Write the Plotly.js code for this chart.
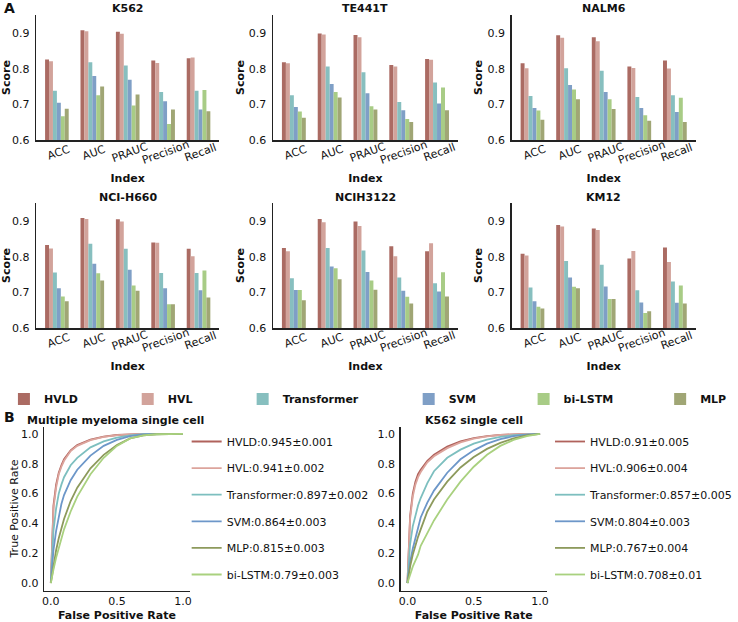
<!DOCTYPE html>
<html><head><meta charset="utf-8">
<script src="https://cdn.plot.ly/plotly-3.0.1.min.js"></script>
<style>html,body{margin:0;padding:0;background:#fff}#chart{width:738px;height:622px}</style>
</head><body><div id="chart"></div>
<script>
// ---------- DATA ----------
const categories = ['ACC', 'AUC', 'PRAUC', 'Precision', 'Recall'];
const methods = ['HVLD', 'HVL', 'Transformer', 'SVM', 'bi-LSTM', 'MLP'];
const cellLines = ['K562', 'TE441T', 'NALM6', 'NCI-H660', 'NCIH3122', 'KM12'];

// rows follow `methods`, columns follow `categories`
const scoresK562 = [
  [0.827, 0.909, 0.905, 0.824, 0.830],
  [0.822, 0.906, 0.899, 0.817, 0.832],
  [0.739, 0.819, 0.810, 0.735, 0.739],
  [0.705, 0.780, 0.770, 0.709, 0.686],
  [0.667, 0.726, 0.697, 0.645, 0.741],
  [0.688, 0.751, 0.728, 0.686, 0.681]
];
const scoresTE441T = [
  [0.819, 0.900, 0.896, 0.811, 0.828],
  [0.816, 0.897, 0.889, 0.807, 0.826],
  [0.726, 0.807, 0.791, 0.707, 0.762],
  [0.693, 0.758, 0.732, 0.684, 0.703],
  [0.680, 0.735, 0.695, 0.659, 0.748],
  [0.663, 0.720, 0.686, 0.651, 0.684]
];
const scoresNALM6 = [
  [0.816, 0.895, 0.889, 0.807, 0.824],
  [0.802, 0.888, 0.878, 0.803, 0.801],
  [0.724, 0.802, 0.795, 0.721, 0.726],
  [0.690, 0.755, 0.735, 0.690, 0.679],
  [0.683, 0.742, 0.715, 0.670, 0.719],
  [0.657, 0.715, 0.687, 0.654, 0.651]
];
const scoresNCIH660 = [
  [0.834, 0.910, 0.906, 0.841, 0.823],
  [0.824, 0.907, 0.900, 0.840, 0.802],
  [0.756, 0.837, 0.823, 0.755, 0.755],
  [0.712, 0.781, 0.764, 0.712, 0.706],
  [0.689, 0.754, 0.720, 0.667, 0.762],
  [0.675, 0.734, 0.705, 0.667, 0.686]
];
const scoresNCIH3122 = [
  [0.825, 0.907, 0.900, 0.830, 0.816],
  [0.816, 0.898, 0.887, 0.802, 0.839],
  [0.740, 0.825, 0.818, 0.742, 0.726],
  [0.707, 0.773, 0.758, 0.705, 0.703],
  [0.707, 0.768, 0.734, 0.688, 0.757],
  [0.678, 0.737, 0.708, 0.669, 0.689]
];
const scoresKM12 = [
  [0.809, 0.890, 0.880, 0.796, 0.827],
  [0.804, 0.886, 0.876, 0.817, 0.786],
  [0.714, 0.789, 0.778, 0.706, 0.731],
  [0.675, 0.742, 0.717, 0.672, 0.671],
  [0.660, 0.716, 0.682, 0.642, 0.720],
  [0.655, 0.712, 0.682, 0.647, 0.669]
];
const allScores = [scoresK562, scoresTE441T, scoresNALM6, scoresNCIH660, scoresNCIH3122, scoresKM12];

// ROC curves (panel B)
const rocMethods = ['HVLD', 'HVL', 'Transformer', 'SVM', 'MLP', 'bi-LSTM'];
const rocTitleMM = 'Multiple myeloma single cell';
const rocAucMM = ['0.945±0.001', '0.941±0.002', '0.897±0.002', '0.864±0.003', '0.815±0.003', '0.79±0.003'];
const rocFprMM = [0, 0.01, 0.02, 0.04, 0.06, 0.08, 0.1, 0.15, 0.2, 0.3, 0.4, 0.5, 0.6, 0.7, 0.8, 1];
const rocTprMM = [
  [0, 0.35, 0.52, 0.66, 0.74, 0.79, 0.83, 0.89, 0.925, 0.962, 0.982, 0.993, 0.998, 1, 1, 1],
  [0, 0.33, 0.50, 0.64, 0.73, 0.78, 0.82, 0.885, 0.92, 0.958, 0.98, 0.992, 0.998, 1, 1, 1],
  [0, 0.20, 0.35, 0.50, 0.60, 0.66, 0.71, 0.79, 0.84, 0.91, 0.95, 0.975, 0.99, 0.998, 1, 1],
  [0, 0.12, 0.22, 0.35, 0.45, 0.53, 0.59, 0.69, 0.76, 0.855, 0.92, 0.96, 0.985, 0.997, 1, 1],
  [0, 0.06, 0.12, 0.22, 0.30, 0.37, 0.43, 0.55, 0.64, 0.77, 0.86, 0.925, 0.97, 0.99, 0.998, 1],
  [0, 0.05, 0.09, 0.17, 0.24, 0.30, 0.36, 0.48, 0.58, 0.73, 0.84, 0.92, 0.97, 0.99, 0.998, 1]
];
const rocTitleK562 = 'K562 single cell';
const rocAucK562 = ['0.91±0.005', '0.906±0.004', '0.857±0.005', '0.804±0.003', '0.767±0.004', '0.708±0.01'];
const rocFprK562 = [0, 0.01, 0.02, 0.04, 0.06, 0.08, 0.1, 0.15, 0.2, 0.3, 0.4, 0.5, 0.6, 0.7, 0.8, 0.9, 1];
const rocTprK562 = [
  [0, 0.30, 0.45, 0.60, 0.68, 0.73, 0.76, 0.82, 0.86, 0.915, 0.95, 0.972, 0.986, 0.994, 0.998, 1, 1],
  [0, 0.28, 0.43, 0.58, 0.66, 0.71, 0.745, 0.81, 0.85, 0.905, 0.943, 0.968, 0.984, 0.993, 0.998, 1, 1],
  [0, 0.15, 0.26, 0.38, 0.46, 0.52, 0.57, 0.67, 0.75, 0.84, 0.895, 0.935, 0.962, 0.98, 0.992, 0.998, 1],
  [0, 0.08, 0.14, 0.23, 0.30, 0.37, 0.44, 0.54, 0.62, 0.74, 0.83, 0.89, 0.935, 0.965, 0.985, 0.995, 1],
  [0, 0.06, 0.11, 0.19, 0.26, 0.31, 0.36, 0.48, 0.56, 0.68, 0.775, 0.845, 0.90, 0.94, 0.97, 0.99, 1],
  [0, 0.03, 0.06, 0.11, 0.15, 0.19, 0.25, 0.34, 0.42, 0.56, 0.68, 0.78, 0.86, 0.92, 0.96, 0.985, 1]
];

// ---------- STYLE ----------
const barColors = {'HVLD': '#ab6b63', 'HVL': '#d2a39b', 'Transformer': '#87bfbf', 'SVM': '#7f9fc6', 'bi-LSTM': '#a8cc86', 'MLP': '#a0a675'};
const rocColors = {'HVLD': '#b0625c', 'HVL': '#dca49c', 'Transformer': '#7dbfbf', 'SVM': '#6d97c9', 'MLP': '#8d9a5c', 'bi-LSTM': '#a9d17f'};
const W = 738, H = 622;
const FONT = 'DejaVu Sans, Arial, sans-serif';
const INK = '#111111';
const px = v => v / W;
const py = v => 1 - v / H;

const barBoxes = [
  {l: 37, r: 223, t: 15, b: 140}, {l: 278, r: 466, t: 15, b: 140}, {l: 521, r: 708, t: 15, b: 140},
  {l: 37, r: 223, t: 203, b: 328}, {l: 278, r: 466, t: 203, b: 328}, {l: 521, r: 708, t: 203, b: 328}
];
const rocBoxes = [{l: 45, r: 193, t: 426.5, b: 590.5}, {l: 408, r: 556.5, t: 426.5, b: 590.5}];
const legendCenters = [24, 150, 267, 436, 553, 692];

const traces = [];
const annotations = [];
const layout = {
  width: W, height: H,
  margin: {l: 0, r: 0, t: 0, b: 0},
  paper_bgcolor: '#ffffff', plot_bgcolor: '#ffffff',
  font: {family: FONT, size: 11, color: INK},
  barmode: 'group', bargap: 0.333, bargroupgap: 0,
  showlegend: true
};

function axId(i) { return i === 0 ? '' : String(i + 1); }

// bar panels
allScores.forEach((scores, p) => {
  const id = axId(p);
  methods.forEach((m, k) => {
    traces.push({
      type: 'bar', x: categories, y: scores[k], name: m,
      xaxis: 'x' + id, yaxis: 'y' + id,
      marker: {color: barColors[m], line: {width: 0}},
      showlegend: p === 0,
      legend: k === 0 ? 'legend' : 'legend' + (k + 1),
      legendgroup: m,
      hoverinfo: 'x+y+name'
    });
  });
  const box = barBoxes[p];
  layout['xaxis' + id] = {
    domain: [px(box.l), px(box.r)], anchor: 'y' + id,
    type: 'category', range: [-0.58, 4.58],
    showline: true, linecolor: '#222', linewidth: 1.6,
    showgrid: false, zeroline: false, ticks: '', showticklabels: false,
    title: {text: 'Index', font: {size: 11, weight: 'bold'}, standoff: 33},
    fixedrange: true
  };
  layout['yaxis' + id] = {
    domain: [py(box.b), py(box.t)], anchor: 'x' + id,
    range: [0.6, 0.952], tickvals: [0.6, 0.7, 0.8, 0.9], tickformat: '.1f',
    showline: true, linecolor: '#222', linewidth: 1.6,
    showgrid: false, zeroline: false, ticks: '', ticklabelstandoff: 3,
    tickfont: {size: 11},
    title: {text: 'Score', font: {size: 11, weight: 'bold'}, standoff: 2},
    fixedrange: true
  };
  annotations.push({
    xref: 'paper', yref: 'paper', x: px((box.l + box.r) / 2), y: py(box.t - 6),
    text: cellLines[p], showarrow: false, xanchor: 'center', yanchor: 'middle',
    font: {size: 11, weight: 'bold'}
  });
  categories.forEach(c => {
    annotations.push({
      xref: 'x' + id, yref: 'paper', x: c, y: py(box.b + 12),
      text: c, textangle: -20, showarrow: false, xanchor: 'center', yanchor: 'middle',
      xshift: 2, font: {size: 11}
    });
  });
});

// legends for the bar chart (one per method so each sits where the reference has it)
methods.forEach((m, k) => {
  const key = k === 0 ? 'legend' : 'legend' + (k + 1);
  layout[key] = {
    x: px(legendCenters[k] - 20), y: py(399), xanchor: 'left', yanchor: 'middle',
    orientation: 'h', bgcolor: 'rgba(0,0,0,0)', borderwidth: 0,
    font: {size: 11, weight: 'bold', color: INK}
  };
});

// ROC panels
const rocSets = [
  {title: rocTitleMM, auc: rocAucMM, fpr: rocFprMM, tpr: rocTprMM, legendX: 190, ytitle: 'True Positive Rate'},
  {title: rocTitleK562, auc: rocAucK562, fpr: rocFprK562, tpr: rocTprK562, legendX: 560, ytitle: ''}
];
rocSets.forEach((s, j) => {
  const id = String(7 + j);
  const leg = 'legend' + id;
  rocMethods.forEach((m, k) => {
    traces.push({
      type: 'scatter', mode: 'lines', x: s.fpr, y: s.tpr[k],
      xaxis: 'x' + id, yaxis: 'y' + id,
      name: m + ':' + s.auc[k],
      line: {color: rocColors[m], width: 1.8},
      legend: leg, legendgroup: leg + m, showlegend: true
    });
  });
  const box = rocBoxes[j];
  layout['xaxis' + id] = {
    domain: [px(box.l), px(box.r)], anchor: 'y' + id,
    range: [-0.05, 1.05], tickvals: [0, 0.5, 1], tickformat: '.1f',
    showline: true, linecolor: '#222', linewidth: 1.6,
    showgrid: false, zeroline: false, ticks: '', tickfont: {size: 11},
    title: {text: 'False Positive Rate', font: {size: 11, weight: 'bold'}, standoff: 10},
    fixedrange: true
  };
  layout['yaxis' + id] = {
    domain: [py(box.b), py(box.t)], anchor: 'x' + id,
    range: [-0.05, 1.05], tickvals: [0, 0.2, 0.4, 0.6, 0.8, 1], tickformat: '.1f',
    showline: true, linecolor: '#222', linewidth: 1.6,
    showgrid: false, zeroline: false, ticks: '', ticklabelstandoff: 2, tickfont: {size: 11},
    title: {text: s.ytitle, font: {size: 11}, standoff: 0},
    fixedrange: true
  };
  layout[leg] = {
    x: px(s.legendX), y: py(427), xanchor: 'left', yanchor: 'top',
    bgcolor: 'rgba(0,0,0,0)', borderwidth: 0, traceorder: 'grouped', tracegroupgap: 7.6,
    font: {size: 11, color: INK}
  };
  annotations.push({
    xref: 'paper', yref: 'paper', x: px(j === 0 ? 118 : 483), y: py(420),
    text: s.title, showarrow: false, xanchor: 'center', yanchor: 'middle',
    font: {size: 11, weight: 'bold'}
  });
});

// panel letters
annotations.push({xref: 'paper', yref: 'paper', x: px(2), y: py(8), text: 'A', showarrow: false,
  xanchor: 'left', yanchor: 'middle', font: {size: 14, weight: 'bold'}});
annotations.push({xref: 'paper', yref: 'paper', x: px(2), y: py(417), text: 'B', showarrow: false,
  xanchor: 'left', yanchor: 'middle', font: {size: 14, weight: 'bold'}});

layout.annotations = annotations;
Plotly.newPlot('chart', traces, layout, {displayModeBar: false, staticPlot: true});
</script></body></html>
